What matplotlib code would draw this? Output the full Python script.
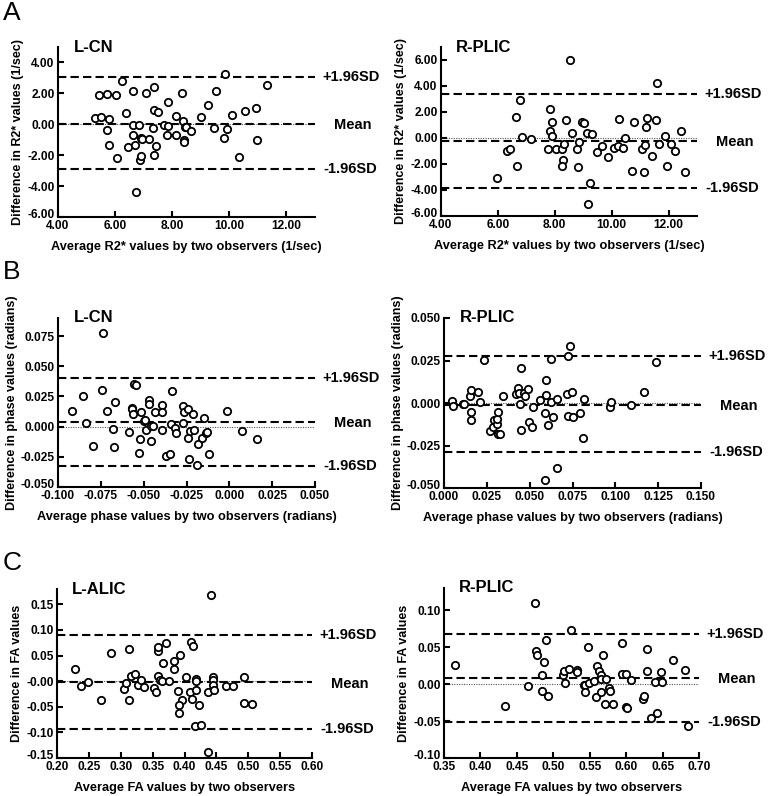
import matplotlib
matplotlib.use("Agg")
import matplotlib.pyplot as plt
from matplotlib.transforms import ScaledTranslation

plt.rcParams["font.family"] = ["Liberation Sans", "DejaVu Sans"]
plt.rcParams["font.weight"] = "bold"

# ---- A: R2* ----
r2_lcn_x = [5.29, 5.49, 5.44, 5.71, 6.02, 5.79, 5.71, 5.79, 6.08, 6.25, 6.39, 6.45, 6.61, 6.64,
            6.64, 6.69, 6.74, 6.84, 6.87, 6.92, 6.91, 6.95, 7.08, 7.18, 7.36, 7.36, 7.51, 7.34,
            7.36, 7.44, 7.72, 7.86, 7.86, 7.80, 8.14, 8.12, 8.35, 8.39, 8.41, 8.42, 8.43, 8.49,
            8.67, 9.00, 9.27, 9.47, 9.55, 9.86, 9.82, 9.92, 10.09, 10.33, 10.56, 10.95, 10.96, 11.31]
r2_lcn_y = [0.41, 0.45, 1.87, 1.96, 1.89, 0.34, -0.39, -1.35, -2.19, 2.82, 0.75, -1.48, 2.13, -0.04,
            -0.67, -1.31, -4.41, -0.04, -2.34, -2.06, -0.90, -0.95, 2.04, -0.95, 2.39, 0.92, 0.80, -0.26,
            -1.98, -1.38, -0.02, -0.13, 1.42, -0.71, -0.69, 0.56, 2.00, 0.24, -1.05, -1.12, -0.19, -0.15,
            -0.41, 0.49, 1.25, -0.26, 2.15, 3.25, -0.88, -0.30, 0.60, -2.09, 0.88, 1.03, -0.99, 2.52]
r2_lcn_limits = [3.03, 0.03, -2.92]

r2_rplic_x = [5.96, 6.32, 6.42, 6.64, 6.67, 6.76, 6.85, 7.17, 7.77, 7.84, 7.83, 7.89, 7.91, 8.03,
              8.25, 8.41, 8.32, 8.28, 8.26, 8.53, 8.59, 8.78, 8.83, 8.86, 8.95, 9.02, 9.13, 9.24,
              9.18, 9.31, 9.47, 9.65, 9.88, 10.08, 10.21, 10.26, 10.40, 10.46, 10.72, 10.79, 11.05,
              11.12, 11.18, 11.22, 11.25, 11.42, 11.57, 11.58, 11.65, 11.87, 11.96, 12.08, 12.24,
              12.44, 12.57]
r2_rplic_y = [-3.04, -0.98, -0.83, 1.63, -2.15, 2.93, 0.08, -0.04, -0.85, 2.24, 0.57, 1.20, 0.16, -0.88,
              -0.85, 1.36, -0.47, -1.66, -2.15, 5.97, 0.41, -0.83, -2.20, -0.27, 1.23, 1.18, 0.37, -3.44,
              -5.09, 0.32, -1.11, -0.62, -1.44, -0.78, -0.62, 1.43, -0.80, 0.01, -2.50, 1.23, -0.83,
              -2.58, -0.52, 0.88, 1.56, -1.39, 1.38, 4.25, -0.47, 0.19, -2.17, -0.45, -1.00,
              0.54, -2.60]
r2_rplic_limits = [3.36, -0.22, -3.85]

# ---- B: phase ----
ph_lcn_x = [-0.0916, -0.0856, -0.0834, -0.0797, -0.0741, -0.0735, -0.0714, -0.0677, -0.0671, -0.0669,
            -0.0585, -0.0571, -0.0566, -0.0560, -0.0556, -0.0542, -0.0527, -0.0521, -0.0513, -0.0499,
            -0.0492, -0.0484, -0.0466, -0.0466, -0.0458, -0.0455, -0.0443, -0.0433, -0.0394, -0.0392,
            -0.0392, -0.0367, -0.0347, -0.0342, -0.0336, -0.0316, -0.0312, -0.0273, -0.0271, -0.0267,
            -0.0244, -0.0240, -0.0236, -0.0230, -0.0213, -0.0205, -0.0191, -0.0180, -0.0162, -0.0149,
            -0.0135, -0.0131, -0.0121, -0.0016, 0.0073, 0.0159]
ph_lcn_y = [0.0133, 0.0250, 0.0031, -0.0158, 0.0303, 0.0775, 0.0133, -0.0022, -0.0167, 0.0206,
            -0.0042, 0.0153, 0.0144, 0.0106, 0.0353, 0.0342, -0.0219, -0.0100, 0.0122, 0.0047,
            0.0056, -0.0025, 0.0217, 0.0186, -0.0119, 0.0003, 0.0006, 0.0122, 0.0181, 0.0119,
            -0.0025, -0.0244, -0.0225, 0.0019, 0.0292, -0.0014, -0.0050, 0.0028, 0.0167, 0.0125,
            0.0147, -0.0097, -0.0264, -0.0033, 0.0108, -0.0028, -0.0319, -0.0147, -0.0097, 0.0075,
            -0.0050, -0.0044, -0.0225, 0.0133, -0.0033, -0.0106]
ph_lcn_limits = [0.0405, 0.0042, -0.0322]

ph_rplic_x = [0.0049, 0.0053, 0.0111, 0.0115, 0.0152, 0.0160, 0.0160, 0.0158, 0.0197, 0.0208,
              0.0234, 0.0267, 0.0286, 0.0294, 0.0308, 0.0308, 0.0318, 0.0314, 0.0329, 0.0345,
              0.0421, 0.0432, 0.0436, 0.0442, 0.0448, 0.0452, 0.0466, 0.0475, 0.0491, 0.0499,
              0.0512, 0.0520, 0.0563, 0.0592, 0.0592, 0.0594, 0.0596, 0.0608, 0.0623, 0.0627,
              0.0639, 0.0657, 0.0660, 0.0719, 0.0723, 0.0725, 0.0736, 0.0748, 0.0750, 0.0793,
              0.0812, 0.0818, 0.0968, 0.0972, 0.1089, 0.1169, 0.1236]
ph_rplic_y = [0.0012, -0.0020, -0.0006, -0.0004, 0.0041, 0.0077, -0.0053, -0.0102, 0.0067, 0.0008,
              0.0252, -0.0163, -0.0144, -0.0102, -0.0126, -0.0094, -0.0051, -0.0183, -0.0183, 0.0041,
              0.0055, 0.0091, 0.0059, -0.0004, -0.0157, 0.0207, 0.0061, 0.0041, 0.0083, -0.0110,
              -0.0140, -0.0022, 0.0016, -0.0453, -0.0057, 0.0047, 0.0138, -0.0132, 0.0008, 0.0258,
              -0.0085, -0.0384, 0.0022, 0.0053, -0.0077, 0.0278, 0.0333, 0.0065, -0.0083, -0.0057,
              -0.0207, 0.0026, -0.0022, 0.0008, -0.0010, 0.0067, 0.0240]
ph_rplic_limits = [0.0276, -0.0012, -0.0291]

# ---- C: FA ----
fa_lalic_x = [0.2288, 0.2383, 0.2482, 0.2692, 0.2844, 0.3054, 0.3085, 0.3127, 0.3122, 0.3153,
              0.3216, 0.3263, 0.3310, 0.3358, 0.3515, 0.3557, 0.3578, 0.3578, 0.3583, 0.3615,
              0.3646, 0.3714, 0.3662, 0.3762, 0.3830, 0.3835, 0.3929, 0.3903, 0.3955, 0.3908,
              0.3913, 0.4024, 0.4081, 0.4102, 0.4134, 0.4118, 0.4160, 0.4176, 0.4176, 0.4181,
              0.4233, 0.4254, 0.4375, 0.4370, 0.4412, 0.4450, 0.4454, 0.4454, 0.4470, 0.4650,
              0.4755, 0.4941, 0.4941, 0.5061]
fa_lalic_y = [0.0242, -0.0098, -0.0020, -0.0374, 0.0557, -0.0144, -0.0033, 0.0636, -0.0360, 0.0098,
              0.0144, -0.0066, 0.0026, -0.0118, -0.0125, -0.0216, 0.0583, 0.0668, 0.0092, 0.0026,
              0.0007, 0.0754, 0.0347, 0.0007, 0.0387, 0.0236, 0.0511, -0.0183, -0.0360, -0.0465,
              -0.0623, 0.0085, -0.0210, 0.0760, 0.0688, -0.0347, -0.0872, 0.0046, 0.0007, -0.0164,
              -0.0459, -0.0865, -0.0210, -0.1376, 0.1678, 0.0079, 0.0026, -0.0066, -0.0164, -0.0092,
              -0.0092, 0.0079, -0.0433, -0.0439]
fa_lalic_limits = [0.091, -0.002, -0.093]

fa_rplic_x = [0.3651, 0.4337, 0.4657, 0.4744, 0.4763, 0.4772, 0.4845, 0.4841, 0.4877, 0.4904,
              0.4927, 0.5133, 0.5151, 0.5156, 0.5211, 0.5238, 0.5321, 0.5330, 0.5417, 0.5440,
              0.5431, 0.5481, 0.5495, 0.5559, 0.5587, 0.5596, 0.5623, 0.5651, 0.5655, 0.5660,
              0.5678, 0.5705, 0.5724, 0.5760, 0.5778, 0.5820, 0.5939, 0.5943, 0.5998, 0.5998,
              0.6007, 0.6062, 0.6235, 0.6244, 0.6281, 0.6290, 0.6345, 0.6391, 0.6423, 0.6473,
              0.6491, 0.6642, 0.6807, 0.6849]
fa_rplic_y = [0.0253, -0.0293, -0.0032, 0.1093, 0.0447, 0.0393, 0.0117, -0.0095, 0.0293, 0.0600,
              -0.0163, 0.0122, 0.0181, 0.0014, 0.0208, 0.0736, 0.0185, 0.0167, -0.0009, -0.0009,
              -0.0104, 0.0506, 0.0009, 0.0045, -0.0176, 0.0244, 0.0181, -0.0104, 0.0122, 0.0072,
              0.0393, -0.0275, 0.0072, -0.0050, -0.0090, -0.0271, 0.0560, 0.0140, 0.0140, -0.0312,
              -0.0320, 0.0050, -0.0203, -0.0158, 0.0172, 0.0474, -0.0456, 0.0023, -0.0388, 0.0167,
              0.0023, 0.0325, 0.0190, -0.0573]
fa_rplic_limits = [0.0677, 0.0086, -0.0510]

limit_labels = ["+1.96SD", "Mean", "-1.96SD"]

R2_XLABEL = "Average R2* values by two observers (1/sec)"
R2_YLABEL = "Difference in R2* values (1/sec)"
PH_XLABEL = "Average phase values by two observers (radians)"
PH_YLABEL = "Difference in phase values (radians)"
FA_XLABEL = "Average FA values by two observers"
FA_YLABEL = "Difference in FA values"


def ticks(start, stop, step, fmt):
    n = int(round((stop - start) / step))
    vals = [start + i * step for i in range(n + 1)]
    return vals, [fmt.format(v) for v in vals]


def bland_altman(fig, rect, x, y, limits, title, xlim, ylim, xt, yt, xlabel, ylabel):
    ax = fig.add_axes(rect)
    ax.axhline(0, color="#555555", lw=0.8, ls=(0, (1, 1.2)), zorder=1)
    for val in limits:
        ax.axhline(val, color="black", lw=1.5, ls=(0, (4, 2)), zorder=2)
    ax.scatter(x, y, s=28, facecolors="white", edgecolors="black", linewidths=1.3, zorder=3,
               clip_on=False)
    ax.set_xlim(*xlim)
    ax.set_ylim(*ylim)
    ax.set_xticks(xt[0])
    ax.set_xticklabels(xt[1])
    ax.set_yticks(yt[0])
    ax.set_yticklabels(yt[1])
    for side in ("top", "right"):
        ax.spines[side].set_visible(False)
    for side in ("left", "bottom"):
        ax.spines[side].set_linewidth(1.5)
    ax.tick_params(direction="in", length=4, width=1.5, labelsize=8.6, pad=2.5)
    # lift the lowest y label a little so it does not collide with the first x label
    low = ax.get_yticklabels()[0]
    low.set_transform(low.get_transform() + ScaledTranslation(0, 2.5 / 72, fig.dpi_scale_trans))
    ax.set_xlabel(xlabel, fontsize=9.2, fontweight="bold", labelpad=6)
    ax.set_ylabel(ylabel, fontsize=9, fontweight="bold", labelpad=2)
    ax.text(0.06, 1.0, title, transform=ax.transAxes, fontsize=12, fontweight="bold",
            va="center", ha="left")
    offsets = [5, 14, 6]
    for val, lab, off in zip(limits, limit_labels, offsets):
        ax.annotate(lab, xy=(1.0, val), xycoords=("axes fraction", "data"),
                    xytext=(off, -1 if lab == "Mean" else 0), textcoords="offset points",
                    ha="left", va="center", fontsize=10.5, fontweight="bold")
    return ax


W, H = 768, 796


def rect(l, r, t, b):
    return [l / W, 1 - b / H, (r - l) / W, (b - t) / H]


fig = plt.figure(figsize=(W / 100, H / 100), dpi=100)

bland_altman(fig, rect(58, 315, 47, 217), r2_lcn_x, r2_lcn_y, r2_lcn_limits, "L-CN",
             (4, 13), (-6, 5), ticks(4, 12, 2, "{:.2f}"), ticks(-6, 4, 2, "{:.2f}"),
             R2_XLABEL, R2_YLABEL)
bland_altman(fig, rect(441, 697, 47, 216), r2_rplic_x, r2_rplic_y, r2_rplic_limits, "R-PLIC",
             (4, 13), (-6, 7), ticks(4, 12, 2, "{:.2f}"), ticks(-6, 6, 2, "{:.2f}"),
             R2_XLABEL, R2_YLABEL)
bland_altman(fig, rect(58, 315, 318, 487), ph_lcn_x, ph_lcn_y, ph_lcn_limits, "L-CN",
             (-0.1, 0.05), (-0.05, 0.09), ticks(-0.1, 0.05, 0.025, "{:.3f}"),
             ticks(-0.05, 0.075, 0.025, "{:.3f}"), PH_XLABEL, PH_YLABEL)
bland_altman(fig, rect(444, 701, 318, 488), ph_rplic_x, ph_rplic_y, ph_rplic_limits, "R-PLIC",
             (0, 0.15), (-0.05, 0.05), ticks(0, 0.15, 0.025, "{:.3f}"),
             ticks(-0.05, 0.05, 0.025, "{:.3f}"), PH_XLABEL, PH_YLABEL)
yt_c = ticks(-0.15, 0.15, 0.05, "{:.2f}")
yt_c = (yt_c[0], [lab if lab not in ("0.00", "-0.00") else "-0.00" for lab in yt_c[1]])
bland_altman(fig, rect(57, 312, 589, 758), fa_lalic_x, fa_lalic_y, fa_lalic_limits, "L-ALIC",
             (0.2, 0.6), (-0.15, 0.18), ticks(0.2, 0.6, 0.05, "{:.2f}"), yt_c,
             FA_XLABEL, FA_YLABEL)
yt_c2 = ticks(-0.10, 0.10, 0.05, "{:.2f}")
yt_c2 = (yt_c2[0], [lab if lab != "-0.00" else "0.00" for lab in yt_c2[1]])
bland_altman(fig, rect(444, 699, 588, 758), fa_rplic_x, fa_rplic_y, fa_rplic_limits, "R-PLIC",
             (0.35, 0.7), (-0.10, 0.13), ticks(0.35, 0.7, 0.05, "{:.2f}"), yt_c2,
             FA_XLABEL, FA_YLABEL)

for letter, ypix in (("A", 13), ("B", 272), ("C", 563)):
    fig.text(3 / W, 1 - ypix / H, letter, fontsize=19, fontweight="normal", va="center", ha="left")

fig.savefig("out.png", dpi=100)
